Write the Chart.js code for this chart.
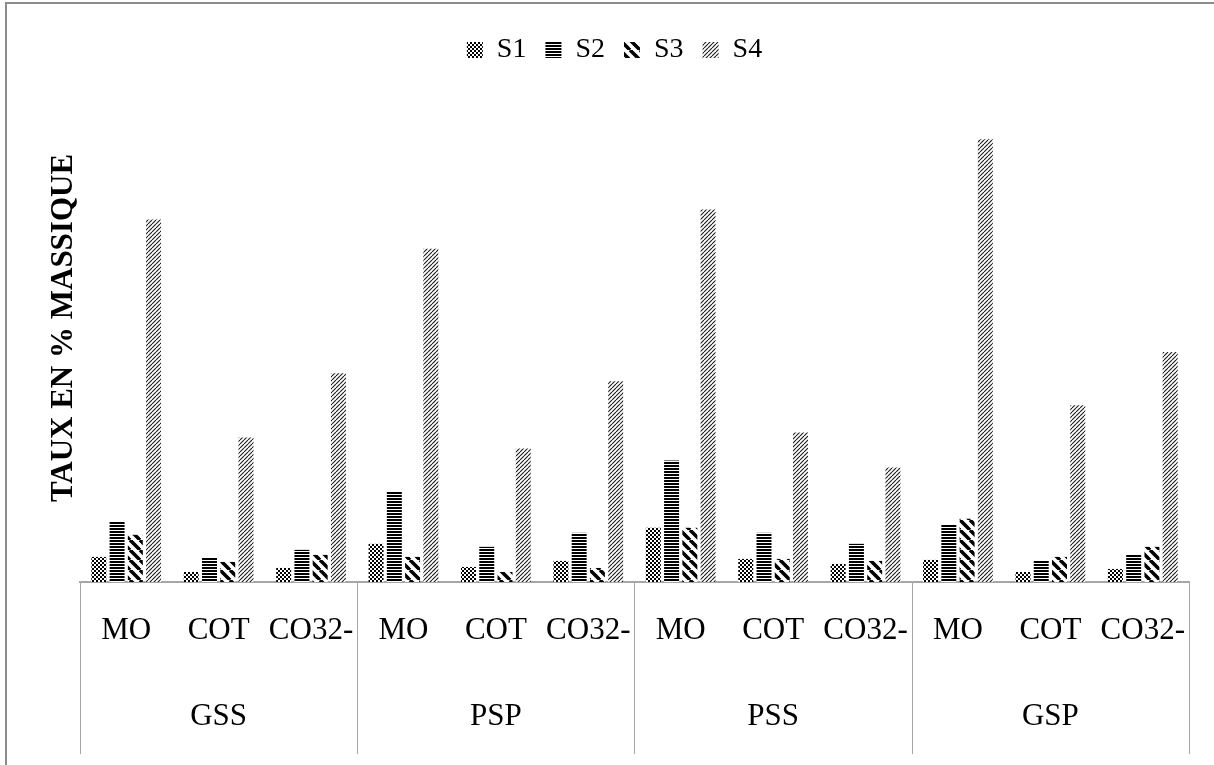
<!DOCTYPE html>
<html>
<head>
<meta charset="utf-8">
<script src="https://cdn.jsdelivr.net/npm/chart.js@4"></script>
<style>
  body { margin: 0; background: #fff; }
  #wrap { position: relative; width: 1214px; height: 765px; }
  #frame { position: absolute; left: 5px; top: 2px; width: 1209px; height: 763px;
           border-left: 2px solid #8c8c8c; border-top: 2px solid #8c8c8c; box-sizing: border-box; pointer-events: none; }
</style>
</head>
<body>
<div id="wrap">
  <canvas id="chart" width="1214" height="765"></canvas>
  <div id="frame"></div>
</div>
<script>
// groups and sub-categories along the x axis
const groups = ['GSS', 'PSP', 'PSS', 'GSP'];
const subCats = ['MO', 'COT', 'CO32-'];

// bar heights (no scale shown, same unit for all)
const s1 = [25, 10, 14, 38, 15, 21, 54, 23, 18, 22, 10, 13];
const s2 = [60, 24, 32, 90, 35, 49, 121, 49, 38, 57, 21, 27];
const s3 = [47, 20, 27, 25, 10, 14, 54, 23, 21, 63, 25, 35];
const s4 = [361, 144, 208, 332, 133, 200, 371, 149, 114, 441, 176, 229];

const yMax = 506;

const labels = [];
groups.forEach(g => {
    subCats.forEach((s, i) => {
        labels.push(i === 1 ? [s, '', g] : [s]);
    });
});

function makePattern(size, draw) {
    const c = document.createElement('canvas');
    c.width = size[0];
    c.height = size[1];
    const ctx = c.getContext('2d');
    ctx.fillStyle = '#fff';
    ctx.fillRect(0, 0, c.width, c.height);
    draw(ctx);
    return document.getElementById('chart').getContext('2d').createPattern(c, 'repeat');
}

const checker = makePattern([4, 4], ctx => {
    ctx.fillStyle = '#000';
    ctx.fillRect(0, 0, 2, 2);
    ctx.fillRect(2, 2, 2, 2);
});
const hlines = makePattern([3, 3], ctx => {
    ctx.fillStyle = '#000';
    ctx.fillRect(0, 0, 3, 2);
});
const wideDiag = makePattern([10, 10], ctx => {
    ctx.strokeStyle = '#000';
    ctx.lineWidth = 3.5;
    for (const x0 of [-10, 0, 10]) {
        ctx.beginPath();
        ctx.moveTo(x0, 0);
        ctx.lineTo(x0 + 10, 10);
        ctx.stroke();
    }
});
const fineDiag = makePattern([4, 4], ctx => {
    ctx.strokeStyle = '#1a1a1a';
    ctx.lineWidth = 1.1;
    for (const x0 of [-4, 0, 4]) {
        ctx.beginPath();
        ctx.moveTo(x0, 4);
        ctx.lineTo(x0 + 4, 0);
        ctx.stroke();
    }
});

// vertical separators between the groups, under the axis line
const groupLines = {
    id: 'groupLines',
    afterDraw(chart) {
        const xs = chart.scales.x;
        const ctx = chart.ctx;
        const step = xs.getPixelForValue(1) - xs.getPixelForValue(0);
        ctx.save();
        ctx.strokeStyle = '#a6a6a6';
        ctx.lineWidth = 1;
        for (let i = 0; i <= labels.length; i += subCats.length) {
            const x = Math.round(xs.getPixelForValue(i) - step / 2) + 0.5;
            ctx.beginPath();
            ctx.moveTo(x, xs.top);
            ctx.lineTo(x, chart.height - 11);
            ctx.stroke();
        }
        ctx.restore();
    }
};

Chart.defaults.font.family = "'Liberation Serif', 'Times New Roman', serif";
Chart.defaults.color = '#000';

new Chart(document.getElementById('chart'), {
    type: 'bar',
    data: {
        labels: labels,
        datasets: [
            { label: 'S1', data: s1, backgroundColor: checker },
            { label: 'S2', data: s2, backgroundColor: hlines },
            { label: 'S3', data: s3, backgroundColor: wideDiag },
            { label: 'S4', data: s4, backgroundColor: fineDiag }
        ]
    },
    options: {
        responsive: false,
        animation: false,
        layout: { padding: { left: 40, right: 25, top: 17, bottom: 0 } },
        datasets: {
            bar: { categoryPercentage: 0.79, barPercentage: 0.82, borderWidth: 0 }
        },
        plugins: {
            legend: {
                position: 'top',
                labels: {
                    boxWidth: 16,
                    boxHeight: 16,
                    padding: 19,
                    font: { size: 28 }
                }
            },
            tooltip: { enabled: false }
        },
        scales: {
            x: {
                grid: { display: false, drawTicks: false },
                border: { display: true, color: '#a6a6a6', width: 2 },
                ticks: {
                    autoSkip: false,
                    maxRotation: 0,
                    padding: 27,
                    font: { size: 31, lineHeight: 1.387 }
                }
            },
            y: {
                min: 0,
                max: yMax,
                grid: { display: false, drawTicks: false },
                border: { display: false },
                ticks: { display: false },
                title: {
                    display: true,
                    text: 'TAUX EN % MASSIQUE',
                    font: { size: 31, weight: 'bold' },
                    padding: { top: 5, bottom: 0 }
                },
                afterFit(scale) { scale.width = 40; }
            }
        }
    },
    plugins: [groupLines]
});
</script>
</body>
</html>
